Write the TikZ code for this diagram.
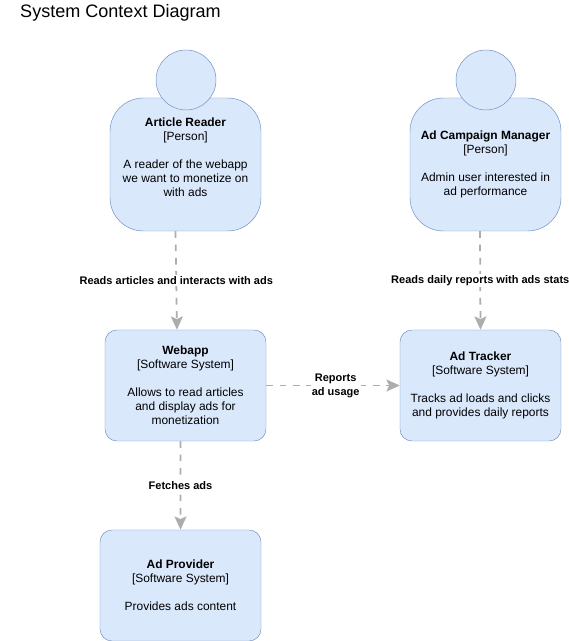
\documentclass[tikz,border=0pt]{standalone}
\usepackage{fontspec}
\setmainfont{Liberation Sans}
\usepackage{xcolor}
\usetikzlibrary{arrows.meta,positioning}
\definecolor{boxfill}{HTML}{DAE8FC}
\definecolor{boxline}{HTML}{6C8EBF}
\definecolor{linkgray}{HTML}{ADADAD}

\begin{document}
\begin{tikzpicture}[
    font=\fontsize{10.2}{11.9}\selectfont,
    >=Stealth,
    block/.style={draw=boxline, fill=boxfill, rounded corners=0.36cm, align=center, minimum width=4.83cm, minimum height=3.33cm, inner sep=0pt},
    person/.style={draw=boxline, fill=boxfill, rounded corners=1cm, align=center, minimum width=4.53cm, minimum height=3.99cm, inner sep=0pt},
    head/.style={draw=boxline, fill=boxfill, circle, minimum size=1.8cm, inner sep=0pt},
    line/.style={-{Stealth[length=0.4cm,width=0.36cm,inset=0.08cm]}, draw=linkgray, line width=1.5pt, dash pattern=on 0.2cm off 0.2cm},
    tag/.style={fill=white, align=center, inner sep=1pt, font=\fontsize{9.4}{11.9}\selectfont\bfseries}
]
\useasboundingbox (0,0) rectangle (17.07,19.23);
\node[anchor=west, inner sep=0pt, font=\fontsize{15.4}{18}\selectfont] (title) at (0.6,18.84) {System Context Diagram};
\node[person] (reader) at (5.565,14.295) {\textbf{Article Reader}\\{}[Person]\\[11.9pt]A reader of the webapp\\we want to monetize on\\with ads\\~};
\node[head] (readerhead) at (5.58,16.83) {};
\node[person] (manager) at (14.565,14.295) {\textbf{Ad Campaign Manager}\\{}[Person]\\[11.9pt]Admin user interested in\\ad performance};
\node[head] (managerhead) at (14.58,16.83) {};
\node[block] (webapp) at (5.565,7.665) {\textbf{Webapp}\\{}[Software System]\\[11.9pt]Allows to read articles\\and display ads for\\monetization};
\node[block] (tracker) at (14.415,7.665) {\textbf{Ad Tracker}\\{}[Software System]\\[11.9pt]Tracks ad loads and clicks\\and provides daily reports};
\node[block] (provider) at (5.415,1.665) {\textbf{Ad Provider}\\{}[Software System]\\[11.9pt]Provides ads content};
\draw[line] ([xshift=-0.3cm]reader.south) -- node[tag] {Reads articles and interacts with ads} ([xshift=-0.255cm]webapp.north);
\draw[line] ([xshift=-0.165cm]manager.south) -- node[tag] {Reads daily reports with ads stats} (tracker.north);
\draw[line] (webapp.east) -- node[tag, pos=0.52] {Reports\\ad usage} (tracker.west);
\draw[line] ([xshift=-0.15cm]webapp.south) -- node[tag] {Fetches ads} (provider.north);
\end{tikzpicture}
\end{document}
